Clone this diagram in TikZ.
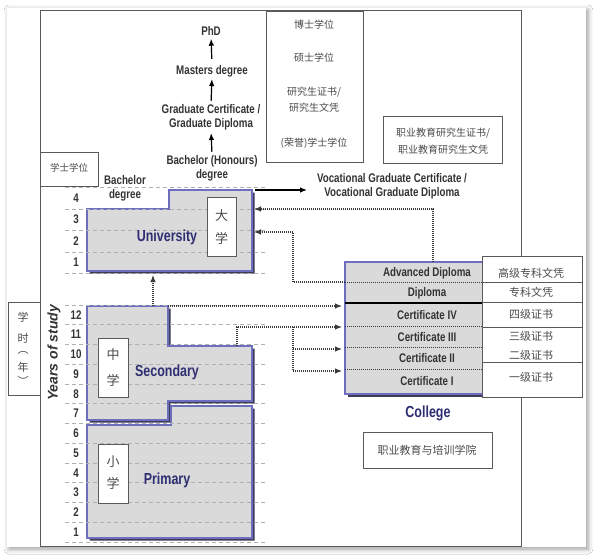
\documentclass[tikz,border=0pt]{standalone}
\usepackage{fontspec}
\setmainfont{Liberation Sans}
\newfontfamily\nar[FakeStretch=0.78]{Liberation Sans}
\newfontfamily\cjk{Noto Sans CJK SC}
\usetikzlibrary{arrows.meta,shadows.blur}
\definecolor{txtc}{HTML}{333333}
\definecolor{navyc}{HTML}{2E2E72}
\definecolor{zhc}{HTML}{4A4A4A}
\definecolor{framec}{HTML}{5A5A5A}
\definecolor{gridc}{HTML}{B0B0B0}
\definecolor{boxfill}{HTML}{DADADA}
\definecolor{boxedge}{HTML}{6E6EC0}
\definecolor{shadc}{HTML}{3C3C58}
\definecolor{dotc}{HTML}{3A3A3A}
\begin{document}
\begin{tikzpicture}[x=1pt,y=-1pt,
  lbl/.style={font=\nar\bfseries\fontsize{12.5}{14}\selectfont, text=txtc, inner sep=0pt, align=center},
  num/.style={font=\nar\bfseries\fontsize{12.5}{14}\selectfont, text=txtc, inner sep=0pt},
  big/.style={font=\nar\bfseries\fontsize{16}{18}\selectfont, text=navyc, inner sep=0pt},
  zh/.style={font=\cjk\fontsize{10}{12}\selectfont, text=zhc, inner sep=0pt},
  zhl/.style={font=\cjk\fontsize{11}{13}\selectfont, text=zhc, inner sep=0pt},
  zhv/.style={font=\cjk\fontsize{13}{15}\selectfont, text=zhc, inner sep=0pt},
  gridline/.style={draw=gridc, line width=0.8pt, dash pattern=on 4pt off 3pt},
  framebox/.style={draw=framec, line width=1pt},
  zhbox/.style={draw=framec, fill=white, line width=0.9pt},
  edubox/.style={fill=boxfill, draw=boxedge, line width=1.2pt},
  edushadow/.style={fill=shadc},
  rowdot/.style={draw=dotc, line width=1pt, dash pattern=on 1pt off 1pt},
  dotarrow/.style={draw=dotc, line width=1.1pt, dash pattern=on 1pt off 1pt, -{Latex[length=7pt,width=5.5pt]}},
  solidarrow/.style={draw=black, line width=1.2pt, -{Latex[length=7pt,width=5.5pt]}}
]
\useasboundingbox (0,0) rectangle (593,556);
\fill[white] (0,0) rectangle (593,556);
\fill[white, blur shadow={shadow xshift=2pt, shadow yshift=-2pt, shadow blur radius=5pt}] (7,8) rectangle (586,547);

% outer frame
\draw[framebox] (40,11) rectangle (521,546);

% top chinese box
\draw[zhbox] (266,11) rectangle (363,162);
\node[zh] (zbs) at (314,25) {博士学位};
\node[zh] (zss) at (314,58) {硕士学位};
\node[zh] (zyj1) at (314,92) {研究生证书/};
\node[zh] (zyj2) at (314,108) {研究生文凭};
\node[zh] (zry) at (314,143) {(荣誉)学士学位};

% vocational chinese box
\draw[zhbox] (383,116) rectangle (502,163);
\node[zh] (zv1) at (443,133) {职业教育研究生证书/};
\node[zh] (zv2) at (443,150) {职业教育研究生文凭};

% bachelor chinese box
\draw[zhbox] (40,152) rectangle (98,186);
\node[zh, font=\cjk\fontsize{9.5}{12}\selectfont] (zxs) at (69,168) {学士学位};

% years chinese box
\draw[zhbox] (8,302) rectangle (40,395);
\node[zh, font=\cjk\fontsize{11}{12}\selectfont] (zy1) at (23,317) {学};
\node[zh, font=\cjk\fontsize{11}{12}\selectfont] (zy2) at (23,338) {时};
\node[zh, font=\cjk\fontsize{11}{12}\selectfont] (zy3) at (23,353) {︵};
\node[zh, font=\cjk\fontsize{11}{12}\selectfont] (zy4) at (23,367) {年};
\node[zh, font=\cjk\fontsize{11}{12}\selectfont] (zy5) at (23,381) {︶};

% Years of study
\node[font=\bfseries\itshape\fontsize{14}{16}\selectfont, text=txtc, rotate=90, inner sep=0pt] (yos) at (54,353) {Years of study};

% top chain
\node[lbl] (phd) at (211,31) {PhD};
\node[lbl] (mas) at (212,71) {Masters degree};
\node[lbl] (grad) at (211,117) {Graduate Certificate /\\Graduate Diploma};
\node[lbl] (bhon) at (212,168) {Bachelor (Honours)\\degree};
\node[lbl] (bdeg) at (125,188) {Bachelor\\degree};
\node[lbl] (voc) at (392,186.5) {Vocational Graduate Certificate /\\Vocational Graduate Diploma};

\draw[solidarrow, shorten <=6pt, shorten >=3pt] (mas.north) -- (phd.south);
\draw[solidarrow, shorten <=3pt, shorten >=2pt] (grad.north) -- (mas.south);
\draw[solidarrow, shorten <=3pt, shorten >=3pt] (bhon.north) -- (grad.south);

% shadows of education boxes
\begin{scope}[shift={(2.5,2.5)}]
\fill[edushadow] (87,209) -- (169,209) -- (169,190) -- (252,190) -- (252,271) -- (87,271) -- cycle;
\fill[edushadow] (87,306) -- (168,306) -- (168,346) -- (252,346) -- (252,401) -- (168,401) -- (168,420) -- (87,420) -- cycle;
\fill[edushadow] (87,425) -- (171,425) -- (171,406) -- (252,406) -- (252,538) -- (87,538) -- cycle;
\fill[edushadow] (345,262) rectangle (512,394);
\end{scope}
\draw[edubox] (87,209) -- (169,209) -- (169,190) -- (252,190) -- (252,271) -- (87,271) -- cycle;
\draw[edubox] (87,306) -- (168,306) -- (168,346) -- (252,346) -- (252,401) -- (168,401) -- (168,420) -- (87,420) -- cycle;
\draw[edubox] (87,425) -- (171,425) -- (171,406) -- (252,406) -- (252,538) -- (87,538) -- cycle;
\draw[edubox] (345,262) rectangle (512,394);

% grid lines
\foreach \y in {187,209,230,252,273} \draw[gridline] (65,\y) -- (267,\y);
\foreach \k in {0,...,12} \draw[gridline] (65,{305+19.75*\k}) -- (267,{305+19.75*\k});

% numbers
\foreach \n/\y in {4/198,3/219.5,2/241,1/262.5} \node[num] (u\n) at (76,\y) {\n};
\foreach \n in {1,...,12} \node[num] (s\n) at (76,{305+19.75*(12-\n)+9.9}) {\n};

% inner chinese boxes
\draw[zhbox] (207,197) rectangle (236,256);
\node[zhv] (zda) at (221.5,216) {大};
\node[zhv] (zdx) at (221.5,238) {学};
\draw[zhbox] (98,338) rectangle (128,397);
\node[zhv] (zzh) at (113,355) {中};
\node[zhv] (zzx) at (113,380) {学};
\draw[zhbox] (98,444) rectangle (128,503);
\node[zhv] (zxi) at (113,462) {小};
\node[zhv] (zxx) at (113,483) {学};

\node[big] (uni) at (167,237) {University};
\node[big] (sec) at (167,372) {Secondary};
\node[big] (pri) at (167,480) {Primary};

% college rows
\draw[rowdot] (345,282) -- (482,282);
\draw[black, line width=1.1pt] (345,303) -- (482,303);
\draw[rowdot] (345,326) -- (482,326);
\draw[rowdot] (345,347) -- (482,347);
\draw[rowdot] (345,369) -- (482,369);
\node[lbl] (adv) at (427,273) {Advanced Diploma};
\node[lbl] (dip) at (427,293) {Diploma};
\node[lbl] (c4) at (427,315) {Certificate IV};
\node[lbl] (c3) at (427,337) {Certificate III};
\node[lbl] (c2) at (427,358) {Certificate II};
\node[lbl] (c1) at (427,381) {Certificate I};
\node[big] (col) at (428,413) {College};

% right chinese column
\draw[zhbox] (482,256) rectangle (582,397);
\foreach \y in {282,302,327,362} \draw[framec, line width=0.9pt] (482,\y) -- (582,\y);
\node[zhl] (zr1) at (531,273) {高级专科文凭};
\node[zhl] (zr2) at (531,292) {专科文凭};
\node[zhl] (zr3) at (531,314) {四级证书};
\node[zhl] (zr4) at (531,336) {三级证书};
\node[zhl] (zr5) at (531,355) {二级证书};
\node[zhl] (zr6) at (531,377) {一级证书};

% college chinese box
\draw[zhbox] (363,432) rectangle (492,468);
\node[zhl] (zcol) at (427,450) {职业教育与培训学院};

% connector points
\coordinate (uniTR) at (252,190);
\coordinate (vocTip) at (307,190);
\coordinate (uniA) at (254,209);
\coordinate (uniB) at (254,232);
\coordinate (uniBot) at (153,275);
\coordinate (colTop) at (433,262);
\coordinate (colB) at (345,282);
\coordinate (bendB) at (293,282);
\coordinate (secTop) at (153,306);
\coordinate (secTR) at (168,306);
\coordinate (secStep) at (237,346);
\coordinate (brE) at (293,327);
\coordinate (colC4) at (342,306);
\coordinate (colC3) at (342,327);
\coordinate (colC2) at (342,349);
\coordinate (colC1) at (342,371);

\draw[solidarrow, shorten <=3pt] (uniTR) -- (vocTip);
\draw[dotarrow] (colTop) |- (uniA);
\draw[dotarrow] (colB) -- (bendB) |- (uniB);
\draw[dotarrow] (secTop) -- (uniBot);
\draw[dotarrow] (secTR) -- (colC4);
\draw[dotarrow] (secStep) |- (colC3);
\draw[dotarrow] (brE) |- (colC2);
\draw[dotarrow] (brE) |- (colC1);
\end{tikzpicture}
\end{document}
